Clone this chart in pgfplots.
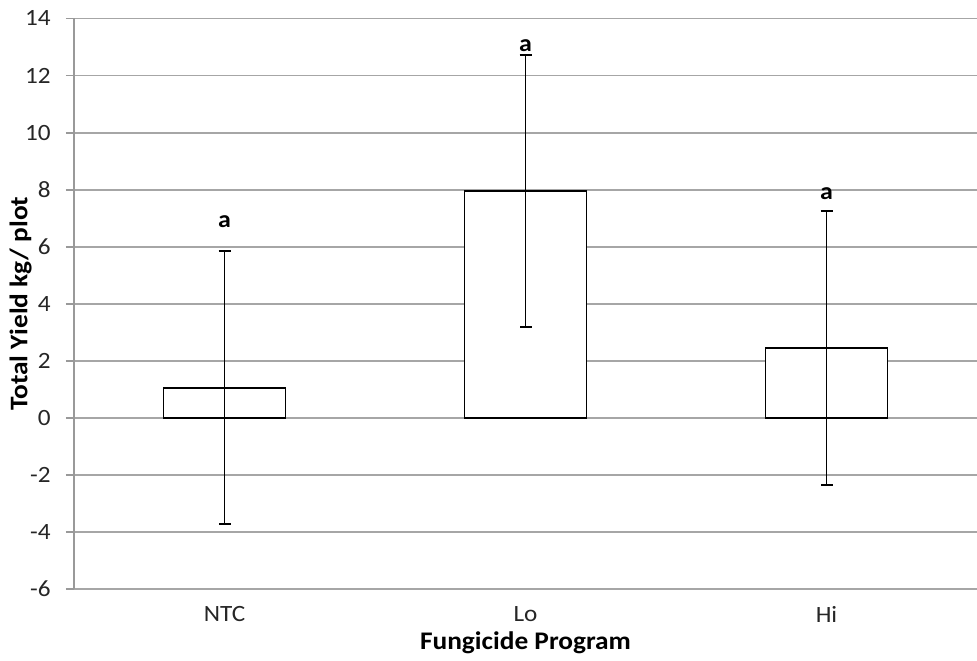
\documentclass[border=0pt]{standalone}
\usepackage{fontspec}
\setmainfont{Carlito}[FakeStretch=1.08]
\usepackage{pgfplots}
\pgfplotsset{compat=1.18}
\begin{document}
\begin{tikzpicture}
\useasboundingbox (-55.5pt,-53.25pt) rectangle (677.25pt,441.75pt);
\begin{axis}[
  at={(0,0)}, anchor=south west,
  scale only axis,
  width=677.25pt, height=427.875pt,
  xmin=-0.5, xmax=2.5,
  ymin=-6, ymax=14,
  ytick={-6,-4,...,14},
  xtick={0,1,2},
  xticklabels={NTC,Lo,Hi},
  axis lines*=left,
  axis line style={draw=gray!80, line width=1.4pt},
  x axis line style={draw=none},
  ymajorgrids,
  grid style={gray!70, line width=1.4pt},
  tick align=outside,
  major tick length=6pt,
  ytick style={gray!80, line width=1.4pt},
  xtick style={draw=none},
  ticklabel style={font=\fontsize{17.5pt}{20pt}\selectfont, text=black!85},
  /pgf/number format/assume math mode=true,
  yticklabel style={xshift=-8pt},
  xticklabel style={anchor=center, yshift=-13pt},
  xlabel={\textbf{Fungicide Program}},
  ylabel={\textbf{Total Yield kg/ plot}},
  label style={font=\fontsize{19pt}{21pt}\selectfont},
  xlabel style={at={(axis description cs:0.5,0)}, anchor=center, yshift=-40.5pt},
  ylabel style={at={(axis description cs:0,0.5)}, anchor=center, yshift=40pt},
  clip=false,
]
\addplot[ybar, bar width=0.405, fill=white, draw=black, line width=1.4pt,
  error bars/.cd, y dir=both, y explicit,
  error bar style={line width=1.4pt, black},
  error mark options={rotate=90, mark size=4.5pt, line width=1.4pt, black}]
  coordinates {(0,1.06) +- (0,4.79) (1,7.95) +- (0,4.78) (2,2.45) +- (0,4.79)};
\addplot[only marks, mark=none, nodes near coords={\textbf{a}},
  nodes near coords align={center},
  every node near coord/.append style={font=\fontsize{18pt}{20pt}\selectfont, text=black}]
  coordinates {(0,6.88) (1,13.06) (2,7.85)};
\end{axis}
\end{tikzpicture}
\end{document}
